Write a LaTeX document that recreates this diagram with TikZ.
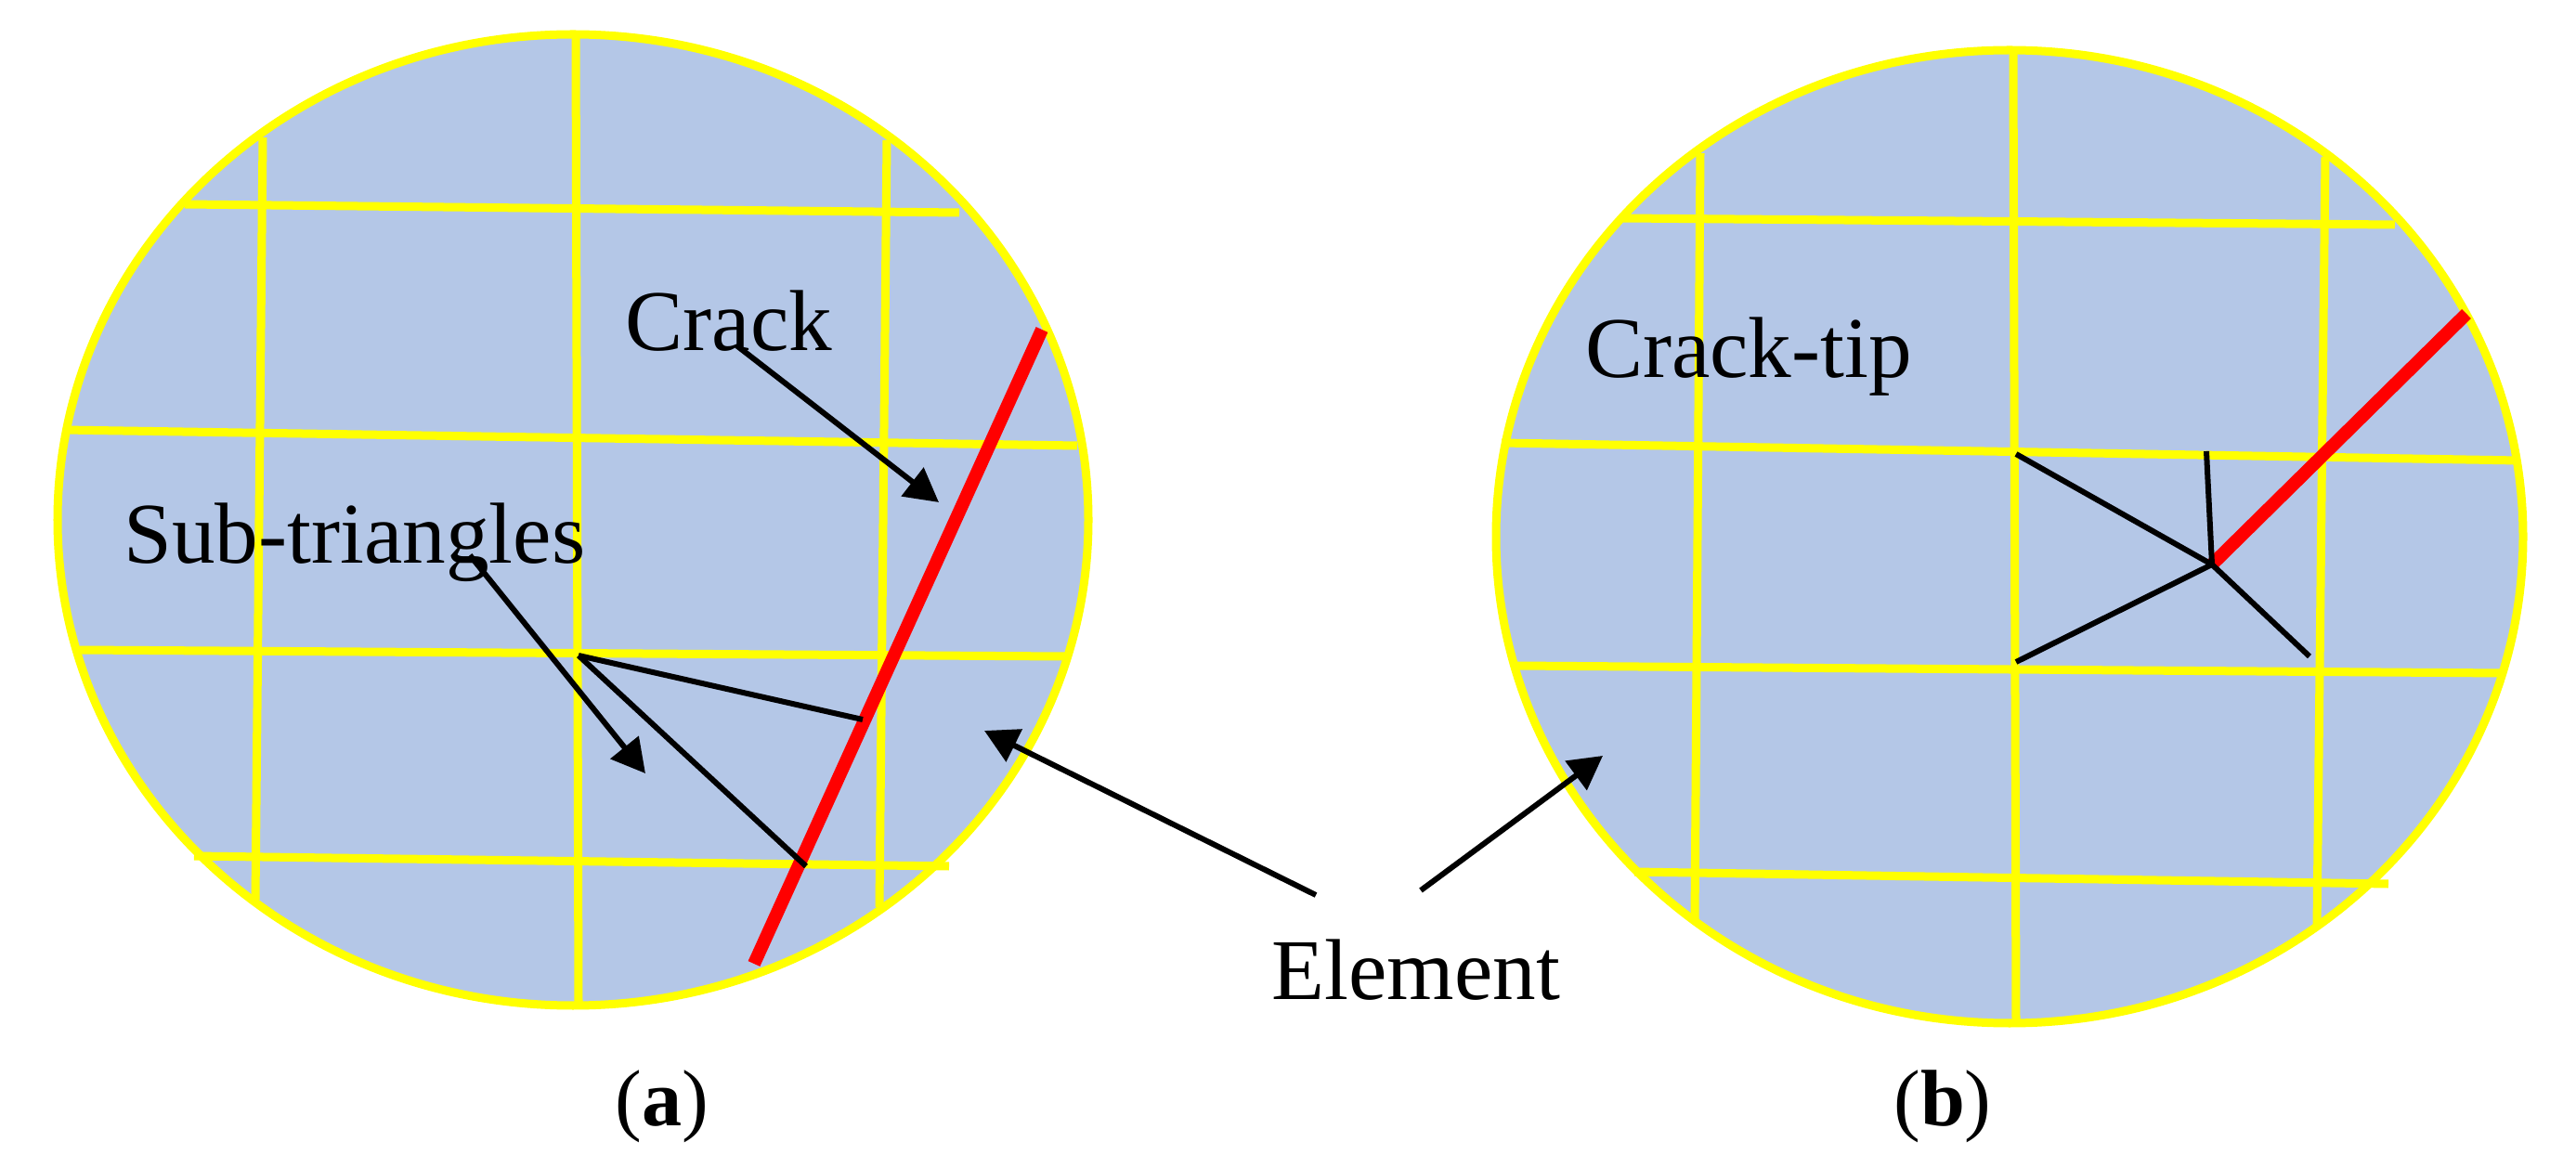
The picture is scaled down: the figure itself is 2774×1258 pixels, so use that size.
\documentclass[tikz,border=0pt]{standalone}
\usepackage{fontspec}
\setmainfont{Liberation Serif}
\usetikzlibrary{arrows.meta}
\definecolor{ElemBlue}{HTML}{B4C7E7}
\definecolor{GridYellow}{HTML}{FFFF00}
\definecolor{CrackRed}{HTML}{FF0000}
\tikzset{
  element/.style={draw=GridYellow,fill=ElemBlue,line width=0.09cm},
  gridline/.style={draw=GridYellow,line width=0.09cm},
  crackline/.style={draw=CrackRed,line width=0.14cm},
  subline/.style={draw=black,line width=0.06cm},
  pointer/.style={draw=black,line width=0.06cm,-{Triangle[length=0.36cm,width=0.38cm]}},
  tag/.style={anchor=base,inner sep=0pt,font=\fontsize{26.5}{30}\selectfont},
  captiontag/.style={anchor=base,inner sep=0pt,font=\fontsize{24.5}{28}\selectfont},
}

\begin{document}
\begin{tikzpicture}[x=0.01cm,y=-0.01cm]
  \useasboundingbox (0,0) rectangle (2774,1258);
  % left element
  \draw[element] (617,560) ellipse [x radius=555,y radius=523];
  \draw[gridline] (283,148) -- (275,969);
  \draw[gridline] (620,40) -- (623,1079);
  \draw[gridline] (955,151) -- (947,977);
  \draw[gridline] (199,220) -- (1033,229);
  \draw[gridline] (68,463) -- (1160,480);
  \draw[gridline] (84,700) -- (1147,707);
  \draw[gridline] (209,922) -- (1022,933);
  \coordinate (aTop) at (1122,355);
  \coordinate (aBot) at (812,1038);
  \coordinate (aNode) at (623,706);
  \coordinate (aHitOne) at (929,775);
  \coordinate (aHitTwo) at (868,933);
  \draw[crackline] (aTop) -- (aBot);
  \draw[subline] (aNode) -- (aHitOne);
  \draw[subline] (aNode) -- (aHitTwo);
  % right element
  \draw[element] (2164,578) ellipse [x radius=553,y radius=524];
  \draw[gridline] (1831,165) -- (1825,994);
  \draw[gridline] (2168,58) -- (2171,1100);
  \draw[gridline] (2504,169) -- (2495,1000);
  \draw[gridline] (1748,235) -- (2579,242);
  \draw[gridline] (1617,477) -- (2713,496);
  \draw[gridline] (1631,717) -- (2696,725);
  \draw[gridline] (1760,939) -- (2572,952);
  \coordinate (bEnd) at (2656,338);
  \coordinate (bTip) at (2382,608);
  \coordinate (bUpLeft) at (2171,489);
  \coordinate (bUp) at (2376,486);
  \coordinate (bLowLeft) at (2171,713);
  \coordinate (bLowRight) at (2487,707);
  \draw[crackline] (bEnd) -- (bTip);
  \foreach \i in {bUpLeft,bUp,bLowLeft,bLowRight}
    \draw[subline] (bTip) -- (\i);
  % labels
  \node[tag] (crack) at (785,378) {Crack};
  \node[tag] (subtri) at (382,607) {Sub-triangles};
  \node[tag] (cracktip) at (1883,407) {Crack-tip};
  \node[tag] (elem) at (1525,1077) {Element};
  \node[captiontag] (capa) at (713,1212) {(\textbf{a})};
  \node[captiontag] (capb) at (2092,1212) {(\textbf{b})};
  % pointers
  \coordinate (crackFrom) at (793,372);
  \coordinate (crackTo) at (1011,541);
  \coordinate (subFrom) at (506,598);
  \coordinate (subTo) at (695,833);
  \coordinate (elemLeft) at (1417,964);
  \coordinate (elemLeftTo) at (1060,787);
  \coordinate (elemRight) at (1530,959);
  \coordinate (elemRightTo) at (1726,814);
  \draw[pointer] (crackFrom) -- (crackTo);
  \draw[pointer] (subFrom) -- (subTo);
  \draw[pointer] (elemLeft) -- (elemLeftTo);
  \draw[pointer] (elemRight) -- (elemRightTo);
\end{tikzpicture}
\end{document}
